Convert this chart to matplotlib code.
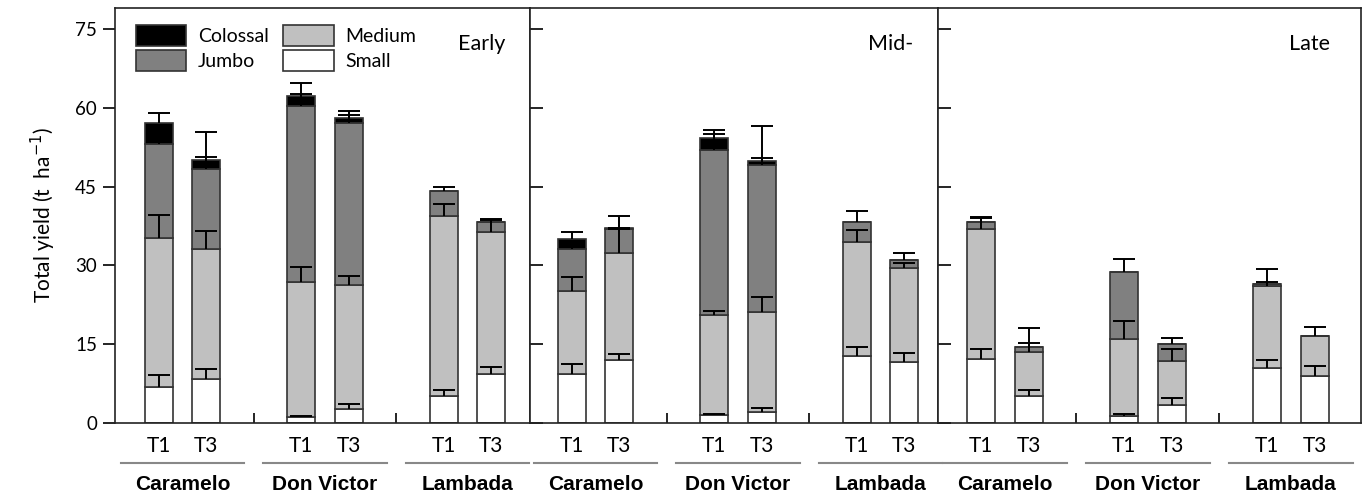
import matplotlib
matplotlib.use('Agg')
import matplotlib.pyplot as plt
from matplotlib.patches import Patch
from matplotlib import font_manager
import numpy as np

# stages (panels), cultivars, treatments
stages = ['Early', 'Mid-', 'Late']
cultivars = ['Caramelo', 'Don Victor', 'Lambada']
treatments = ['T1', 'T3']

# segment heights (t/ha) per stage, order: Car T1, Car T3, DV T1, DV T3, Lam T1, Lam T3
small = [[6.9, 8.3, 1.1, 2.7, 5.2, 9.4],
         [9.4, 12.0, 1.6, 2.1, 12.7, 11.6],
         [12.1, 5.1, 1.4, 3.5, 10.4, 8.9]]
medium = [[28.3, 24.9, 25.8, 23.6, 34.2, 26.9],
          [15.7, 20.3, 18.9, 19.1, 21.8, 18.0],
          [24.8, 8.4, 14.6, 8.3, 15.7, 7.6]]
jumbo = [[17.9, 15.2, 33.5, 30.8, 4.8, 2.0],
         [8.1, 4.6, 31.5, 27.9, 3.8, 1.4],
         [1.4, 0.9, 12.8, 3.3, 0.3, 0.0]]
colossal = [[4.0, 1.7, 1.8, 0.9, 0.0, 0.0],
            [1.8, 0.3, 2.2, 0.7, 0.0, 0.0],
            [0.0, 0.0, 0.0, 0.0, 0.0, 0.0]]

# upper error (SD) of each segment
small_err = [[2.3, 1.9, 0.3, 1.0, 1.0, 1.3],
             [1.9, 1.1, 0.2, 0.8, 1.7, 1.8],
             [1.9, 1.1, 0.4, 1.3, 1.6, 1.9]]
medium_err = [[4.4, 3.4, 2.85, 1.7, 2.3, 2.4],
              [2.7, 4.6, 0.9, 2.8, 2.2, 0.9],
              [2.2, 1.8, 3.5, 2.2, 0.8, 1.8]]
jumbo_err = [[1.5, 2.2, 2.2, 1.6, 0.8, 0.6],
             [1.0, 0.3, 3.0, 1.4, 2.0, 1.3],
             [1.0, 3.7, 2.5, 1.1, 3.0, 0.0]]
colossal_err = [[1.9, 5.2, 2.5, 1.3, 0.0, 0.0],
                [1.4, 2.3, 1.5, 6.8, 0.0, 0.0],
                [0.0, 0.0, 0.0, 0.0, 0.0, 0.0]]

colors = ['white', '#c0c0c0', '#808080', 'black']

names = {f.name for f in font_manager.fontManager.ttflist}
narrow = 'Liberation Sans Narrow' if 'Liberation Sans Narrow' in names else 'Liberation Sans'
plt.rcParams['font.family'] = ['Lato', 'DejaVu Sans']

x = np.array([0, 1, 3, 4, 6, 7])
group_centers = [0.5, 3.5, 6.5]
width = 0.59

fig = plt.figure(figsize=(13.69, 5), dpi=100)
W, H = 1369, 500
bottom_px, top_px = 423, 8
panel_px = [(115, 530), (530, 938), (938, 1361)]
xlims = [(-0.92, 7.82), (-0.88, 7.71), (-0.9, 7.97)]
stage_x = [0.94, 0.939, 0.927]

for i, stage in enumerate(stages):
    l, r = panel_px[i]
    ax = fig.add_axes([l / W, (H - bottom_px) / H, (r - l) / W, (bottom_px - top_px) / H])
    segs = [small[i], medium[i], jumbo[i], colossal[i]]
    errs = [small_err[i], medium_err[i], jumbo_err[i], colossal_err[i]]
    base = np.zeros(6)
    tops = []
    for seg, c in zip(segs, colors):
        seg = np.array(seg)
        ax.bar(x, seg, width, bottom=base, color=c, edgecolor='#333333', linewidth=1.2, zorder=2)
        base = base + seg
        tops.append(base.copy())
    for seg, top, err in zip(segs, tops, errs):
        seg = np.array(seg)
        err = np.array(err)
        m = (seg > 0) & (err > 0)
        if m.any():
            eb = ax.errorbar(x[m], top[m], yerr=[np.zeros(m.sum()), err[m]], fmt='none',
                             ecolor='black', elinewidth=1.4, capsize=8, capthick=1.4, zorder=3)
            eb[1][0].set_visible(False)

    ax.set_xlim(*xlims[i])
    ax.set_ylim(0, 79)
    ax.set_yticks([0, 15, 30, 45, 60, 75])
    ax.set_xticks(x)
    ax.set_xticklabels(treatments * 3, fontsize=15)
    ax.set_xticks([2, 5], minor=True)
    ax.tick_params(axis='x', which='major', length=0, pad=9)
    ax.tick_params(axis='x', which='minor', direction='in', length=7, width=1.2)
    for s in ax.spines.values():
        s.set_linewidth(1.2)
        s.set_color('#222222')
    if i == 0:
        ax.tick_params(axis='y', direction='out', length=9, width=1.2, labelsize=13.5, pad=4)
        ax.set_ylabel('Total yield (t  ha$^{-1}$)', fontsize=15, labelpad=12)
        handles = [Patch(facecolor=c, edgecolor='#333333', linewidth=1.2)
                   for c in ['black', '#808080', '#c0c0c0', 'white']]
        ax.legend(handles, ['Colossal', 'Jumbo', 'Medium', 'Small'], ncol=2,
                  loc='upper left', bbox_to_anchor=(0.05, 0.96), frameon=False,
                  fontsize=14, handlelength=2.58, handleheight=1.3, handletextpad=0.62,
                  columnspacing=0.75, labelspacing=0.2, borderpad=0, borderaxespad=0)
    else:
        ax.tick_params(axis='y', direction='in', length=9, width=1.2, labelleft=False)
    ax.text(stage_x[i], 0.913, stage, transform=ax.transAxes, ha='right', va='center',
            fontsize=15.5)

    trans = ax.get_xaxis_transform()
    for gc, name in zip(group_centers, cultivars):
        ax.plot([gc - 1.3, gc + 1.3], [-0.096, -0.096], color='#888888', lw=1.5,
                transform=trans, clip_on=False)
        ax.text(gc, -0.149, name, transform=trans, ha='center', va='center',
                fontsize=15, fontweight='bold', family=[narrow, 'DejaVu Sans'])

fig.savefig('out.png', dpi=100)
